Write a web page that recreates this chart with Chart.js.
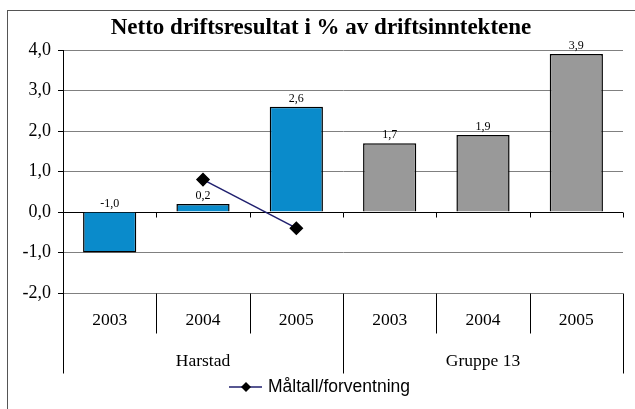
<!DOCTYPE html>
<html>
<head>
<meta charset="utf-8">
<script src="https://cdn.jsdelivr.net/npm/chart.js@4/dist/chart.umd.min.js"></script>
<style>
  html, body { margin:0; padding:0; background:#fff; }
  #wrap { width:635px; height:409px; position:relative; }
</style>
</head>
<body>
<div id="wrap"><canvas id="chart" width="635" height="409"></canvas></div>
<script>
const years   = ['2003', '2004', '2005', '2003', '2004', '2005'];
const groups  = ['Harstad', 'Gruppe 13'];
const result  = [-1.0, 0.2, 2.6, 1.7, 1.9, 3.9];
const target  = [null, 0.8, -0.4, null, null, null];
const yTicks  = [-2, -1, 0, 1, 2, 3, 4];
const titleText  = 'Netto driftsresultat i % av driftsinntektene';
const legendText = 'Måltall/forventning';

const blue = '#0a8bcb', grey = '#999999';
const barColors = result.map((v, i) => i < 3 ? blue : grey);
const fmt = v => v.toFixed(1).replace('.', ',');
const serif = '"Liberation Serif", "Times New Roman", serif';
const sans  = '"Liberation Sans", Arial, sans-serif';

const extras = {
  id: 'extras',
  afterDraw(chart){
    const ctx = chart.ctx, area = chart.chartArea, y = chart.scales.y;
    const w = (area.right - area.left) / years.length;
    const y0 = Math.round(y.getPixelForValue(0)) + 0.5;
    ctx.save();

    // frame
    ctx.strokeStyle = '#555'; ctx.lineWidth = 1;
    ctx.strokeRect(7.5, 10.5, 700, 500);

    // title
    ctx.fillStyle = '#000';
    ctx.font = 'bold 23px ' + serif;
    ctx.textAlign = 'center'; ctx.textBaseline = 'middle';
    ctx.fillText(titleText, 321, 28);

    // ticks on the zero line
    ctx.strokeStyle = '#000';
    ctx.beginPath();
    for (let i = 0; i <= years.length; i++){
      const x = Math.round(area.left + i * w) + 0.5;
      ctx.moveTo(x, y0); ctx.lineTo(x, y0 + 5);
    }
    ctx.stroke();

    // value labels
    ctx.font = '12px ' + serif;
    ctx.textBaseline = 'alphabetic';
    const meta = chart.getDatasetMeta(1);
    meta.data.forEach((bar, i) => {
      const top = y.getPixelForValue(Math.max(result[i], 0));
      ctx.fillText(fmt(result[i]), bar.x, top - 5);
    });

    // category table
    const b = Math.round(area.bottom) + 0.5;
    ctx.strokeStyle = '#000';
    ctx.beginPath();
    for (let i = 0; i <= years.length; i++){
      const x = Math.round(area.left + i * w) + 0.5;
      ctx.moveTo(x, b);
      ctx.lineTo(x, b + (i % 3 === 0 ? 80 : 40));
    }
    ctx.stroke();
    ctx.font = '17.5px ' + serif;
    ctx.textBaseline = 'middle';
    years.forEach((t, i) => ctx.fillText(t, area.left + (i + 0.5) * w, b + 27));
    groups.forEach((t, i) => ctx.fillText(t, area.left + (i * 3 + 1.5) * w, b + 68));

    // legend
    const ly = 387;
    ctx.strokeStyle = '#1f1f6e'; ctx.lineWidth = 1.5;
    ctx.beginPath(); ctx.moveTo(229, ly); ctx.lineTo(262, ly); ctx.stroke();
    ctx.fillStyle = '#000';
    ctx.beginPath();
    ctx.moveTo(246, ly - 5); ctx.lineTo(251, ly); ctx.lineTo(246, ly + 5); ctx.lineTo(241, ly);
    ctx.closePath(); ctx.fill();
    ctx.font = '17.5px ' + sans;
    ctx.textAlign = 'left';
    ctx.fillText(legendText, 268, ly);
    ctx.restore();
  }
};

new Chart(document.getElementById('chart').getContext('2d'), {
  type: 'bar',
  data: {
    labels: years,
    datasets: [
      { type: 'line', label: legendText, data: target, order: 0,
        borderColor: '#1f1f6e', borderWidth: 1.5, spanGaps: false,
        pointStyle: 'rectRot', pointRadius: 6, pointHoverRadius: 6,
        pointBackgroundColor: '#000', pointBorderColor: '#000' },
      { label: 'Netto driftsresultat', data: result, order: 1,
        backgroundColor: barColors, borderColor: '#000', borderWidth: 1.5,
        barPercentage: 0.57, categoryPercentage: 1 }
    ]
  },
  options: {
    responsive: false, animation: false,
    layout: { padding: { top: 50, bottom: 116, left: 0, right: 12 } },
    plugins: { legend: { display: false }, title: { display: false }, tooltip: { enabled: false } },
    scales: {
      x: { display: false },
      y: {
        min: -2, max: 4,
        afterFit: s => { s.width = 63; },
        afterBuildTicks: s => { s.ticks = yTicks.map(v => ({ value: v })); },
        ticks: { callback: v => fmt(v), color: '#000', font: { family: serif, size: 18 }, padding: 7 },
        grid: { color: c => c.tick && c.tick.value === 0 ? '#000' : '#808080', tickLength: 5, tickColor: '#000' },
        border: { color: '#000', width: 1 }
      }
    }
  },
  plugins: [extras]
});
</script>
</body>
</html>
